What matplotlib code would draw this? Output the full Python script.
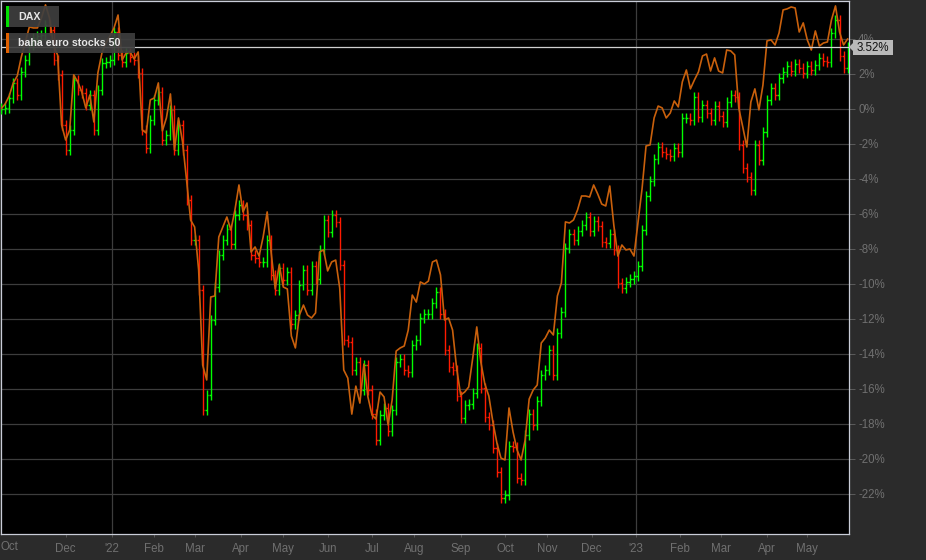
import numpy as np
import pandas as pd
import matplotlib
matplotlib.use("Agg")
import matplotlib.pyplot as plt
from matplotlib.patches import Rectangle, Polygon

plt.rcParams['font.family'] = ['Liberation Sans', 'DejaVu Sans']

# ---------------- data (percent change since start, every 2nd trading day) ----------------
start_date = "2021-10-18"
n_trading_days = 421
sample_step = 2

dax_close = [
    0.00, 0.04, 0.61, 1.47, 0.78, 2.10, 2.78, 3.64, 4.04, 4.15,
    4.21, 4.78, 4.50, 2.78, 1.93, -0.93, -2.36, -1.22, 1.64, 1.07,
    0.90, 0.21, 0.78, -1.22, 1.07, 2.61, 2.67, 2.78, 4.38, 3.07,
    2.67, 3.18, 2.95, 2.78, 2.04, -1.22, -2.25, -0.65, 0.50, 0.95,
    -1.79, -1.50, -0.07, -2.36, -0.93, -2.36, -5.22, -7.50, -7.50, -10.36,
    -17.22, -16.36, -12.07, -10.19, -8.36, -7.50, -6.87, -7.73, -6.07, -5.50,
    -6.07, -6.65, -8.36, -8.53, -8.76, -8.76, -7.50, -9.50, -10.36, -9.10,
    -9.79, -9.33, -12.30, -11.79, -10.07, -9.22, -10.36, -8.99, -9.73, -8.07,
    -6.36, -7.05, -6.07, -6.47, -8.93, -13.22, -13.33, -14.93, -14.47, -16.07,
    -14.65, -16.07, -17.45, -18.93, -17.50, -17.10, -18.42, -17.22, -14.47, -14.30,
    -14.93, -15.05, -13.50, -13.22, -11.96, -11.73, -11.73, -11.10, -10.47, -11.73,
    -13.79, -14.76, -14.93, -16.42, -17.67, -16.93, -16.87, -16.25, -13.67, -15.96,
    -17.62, -18.07, -19.39, -20.76, -22.25, -22.07, -19.27, -19.33, -21.10, -21.22,
    -18.65, -17.45, -18.07, -16.70, -15.22, -14.93, -13.79, -15.22, -12.82, -11.62,
    -7.96, -7.16, -7.50, -6.99, -6.65, -6.19, -6.99, -6.42, -6.70, -7.62,
    -7.67, -7.16, -8.07, -9.96, -10.25, -9.90, -9.73, -9.56, -8.99, -6.93,
    -4.99, -4.13, -2.87, -2.19, -2.47, -2.59, -2.70, -2.25, -2.47, -0.53,
    -0.53, -0.65, 0.67, -0.47, 0.21, -0.25, -0.65, 0.15, -0.42, -0.76,
    0.38, 0.78, 0.67, -2.07, -3.39, -3.90, -4.65, -2.07, -2.93, -1.33,
    0.50, 1.18, 0.78, 1.75, 2.10, 2.44, 2.15, 2.55, 2.33, 2.04,
    2.44, 2.21, 2.50, 2.90, 2.73, 2.67, 4.33, 5.07, 3.01, 2.33,
    3.52,
]

euro_stocks_50 = [
    0.00, 0.27, 0.73, 1.47, 1.87, 2.95, 3.81, 4.67, 4.61, 4.61,
    5.18, 5.93, 5.18, 3.58, 3.07, -0.93, -1.79, -1.22, 1.93, 1.53,
    0.95, 0.04, 0.78, -0.76, 2.04, 3.18, 3.75, 4.15, 4.61, 5.35,
    2.78, 3.18, 3.24, 2.84, 3.24, -1.22, -1.39, 0.50, 0.61, 1.47,
    -1.27, -0.53, 0.84, -2.36, -0.53, -1.90, -4.07, -6.36, -6.76, -9.22,
    -14.65, -15.50, -10.76, -10.70, -7.33, -6.76, -6.19, -6.93, -5.79, -4.36,
    -5.90, -5.39, -8.19, -7.90, -8.42, -7.33, -5.90, -8.25, -10.30, -8.93,
    -10.19, -10.30, -12.99, -13.67, -11.79, -11.22, -11.79, -11.96, -11.67, -8.19,
    -8.07, -9.27, -8.76, -8.65, -10.25, -14.93, -15.39, -17.45, -15.85, -16.82,
    -14.59, -16.47, -17.50, -17.73, -16.19, -16.47, -18.07, -16.65, -13.85, -13.67,
    -13.56, -12.65, -10.65, -11.05, -9.90, -10.02, -9.85, -8.76, -8.65, -9.50,
    -12.07, -11.96, -12.65, -14.82, -16.36, -16.19, -15.90, -14.25, -12.47, -14.47,
    -15.73, -16.42, -17.90, -19.10, -19.96, -20.07, -17.10, -18.47, -19.50, -20.07,
    -18.93, -16.59, -16.07, -15.79, -13.39, -13.10, -12.65, -12.93, -10.70, -9.96,
    -6.47, -6.53, -6.36, -5.79, -4.99, -4.99, -5.05, -4.36, -4.87, -5.45,
    -5.56, -4.42, -6.65, -8.42, -7.79, -8.07, -8.02, -8.42, -6.53, -4.59,
    -2.13, -2.07, -0.53, 0.15, 0.04, -0.53, -0.25, 0.44, 0.10, 1.53,
    2.21, 1.13, 1.64, 2.10, 3.01, 3.12, 2.15, 2.90, 2.15, 2.04,
    3.35, 3.30, 3.07, 0.04, -1.05, -2.19, 0.38, 1.13, -0.07, 1.35,
    3.87, 3.93, 3.64, 4.33, 5.64, 5.70, 5.81, 5.75, 4.38, 4.90,
    3.93, 3.35, 4.44, 3.58, 3.75, 3.81, 5.07, 5.87, 4.38, 3.64,
    3.98,
]

series_names = ["DAX", "baha euro stocks 50"]
last_label = "3.52%"
last_value = 3.52
y_tick_values = [4, 2, 0, -2, -4, -6, -8, -10, -12, -14, -16, -18, -20, -22]
first_label = "Oct"
year_labels = {2022: "'22", 2023: "'23"}

# ---------------- figure ----------------
W, H = 926, 560
DPI = 100
BG = "#2b2b2b"
fig = plt.figure(figsize=(W / DPI, H / DPI), dpi=DPI, facecolor=BG)

ax_l, ax_r, ax_t, ax_b = 0.5, 849.0, 1.0, 534.0
ax = fig.add_axes([ax_l / W, 1 - ax_b / H, (ax_r - ax_l) / W, (ax_b - ax_t) / H])
ax.set_facecolor("#000000")

all_days = pd.bdate_range(start_date, periods=n_trading_days)
idx = np.arange(0, n_trading_days, sample_step)
close = np.array(dax_close)
euro = np.array(euro_stocks_50)

opens = np.r_[0.0, close[:-1]]
wick = 0.3
highs = np.maximum(opens, close) + wick
lows = np.minimum(opens, close) - wick
up = close >= opens
colors = np.where(up, "#00ff00", "#ff1a00")

tick_w = 0.8
ax.vlines(idx, lows, highs, colors=colors, linewidth=1.0, zorder=3)
ax.hlines(opens, idx - tick_w, idx, colors=colors, linewidth=1.0, zorder=3)
ax.hlines(close, idx, idx + tick_w, colors=colors, linewidth=1.0, zorder=3)

ax.plot(idx, euro, color="#c9600c", linewidth=1.2, zorder=4, solid_joinstyle="round")

# axes limits
ax.set_xlim(-0.32, 420.7)
ax.set_ylim(-24.30, 6.15)

# grid
for v in y_tick_values:
    ax.axhline(v, color="#3d3d3d", linewidth=0.9, zorder=1)

# month ticks
month_pos, month_lab = [], []
periods = all_days.to_period("M")
for p in periods.unique():
    pos = int(np.argmax(periods == p))
    if pos == 0:
        continue
    d = all_days[pos]
    if d.year == 2021 and d.month == 11:
        continue
    if d.month == 1:
        month_lab.append(year_labels[d.year])
        ax.axvline(pos, color="#3d3d3d", linewidth=0.9, zorder=1)
    else:
        month_lab.append(d.strftime("%b"))
    month_pos.append(pos)
ax.set_xticks(month_pos)
ax.set_xticklabels(month_lab)
ax.tick_params(axis="x", direction="out", length=2.5, width=0.75, color="#555555",
               labelcolor="#707070", labelsize=8.3, pad=4)

ax.yaxis.tick_right()
ax.set_yticks(y_tick_values)
ax.set_yticklabels([f"{v}%" for v in y_tick_values])
ax.tick_params(axis="y", direction="out", length=4, width=0.75, color="#5a5a5a",
               labelcolor="#707070", labelsize=8.3, pad=2.5)

for s in ax.spines.values():
    s.set_color("#c9cdd8")
    s.set_linewidth(0.9)

# current value line
ax.axhline(last_value, color="#d0d0d0", linewidth=0.9, zorder=5)

# ---------------- overlay in pixel coordinates ----------------
ov = fig.add_axes([0, 0, 1, 1], zorder=10)
ov.set_xlim(0, W)
ov.set_ylim(H, 0)
ov.axis("off")
ov.patch.set_alpha(0)

# first (start) month label, left-aligned at chart start
ov.text(0.5, 547, first_label, color="#707070", fontsize=8.3, ha="left", va="center")

# legend boxes
legend_rows = [(6, 27, 59, "#00e000"), (33, 53, 135, "#e06000")]
for (y0, y1, x1, c), name in zip(legend_rows, series_names):
    ov.add_patch(Rectangle((6, y0), x1 - 6, y1 - y0, facecolor="#3f3f3f", edgecolor="none", alpha=0.92))
    ov.add_patch(Rectangle((6, y0), 3, y1 - y0, facecolor=c, edgecolor="none"))
    ov.text(18, (y0 + y1) / 2 + 0.5, name, color="#e6e6e6", fontsize=7.7, fontweight="bold",
            ha="left", va="center")

# last value label box
fig.canvas.draw()
_, ydisp = ax.transData.transform((0, last_value))
ypx = H - ydisp
ov.add_patch(Rectangle((853, ypx - 7.5), 40, 15, facecolor="#b9b9b9", edgecolor="none"))
ov.add_patch(Polygon([(849, ypx), (853.5, ypx - 4.5), (853.5, ypx + 4.5)], closed=True,
                     facecolor="#b9b9b9", edgecolor="none"))
ov.text(873, ypx + 0.5, last_label, color="#111111", fontsize=8.3, ha="center", va="center")

fig.savefig("out.png", dpi=DPI, facecolor=BG)
